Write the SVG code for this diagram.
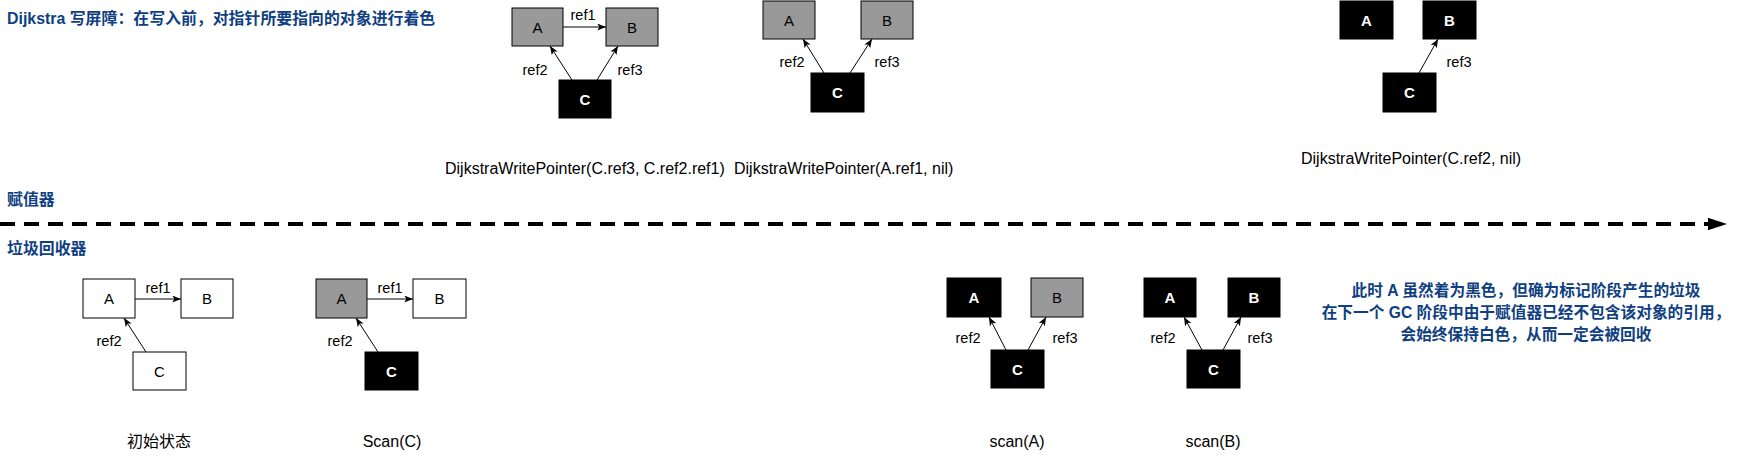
<svg xmlns="http://www.w3.org/2000/svg" width="1749" height="456" viewBox="0 0 1749 456">
<style>
text{font-family:"Liberation Sans","Noto Sans CJK SC",sans-serif;fill:#000}
.blue{fill:#0f3f82;font-weight:bold}
.t15{font-size:15.9px}
.lbl{font-size:15px;text-anchor:middle}
.wl{font-size:15px;text-anchor:middle;fill:#fff;font-weight:bold}
.ref{font-size:14.5px;text-anchor:middle}
.cap{font-size:16px}
.capm{font-size:16px;text-anchor:middle}
.ann{font-size:15.7px;text-anchor:middle}
.w{fill:#fff;stroke:#000;stroke-width:1}
.g{fill:#999;stroke:#000;stroke-width:1}
.k{fill:#000;stroke:#000;stroke-width:1}
.c{stroke:#000;stroke-width:1;fill:none;marker-end:url(#ah)}
</style>
<defs>
<marker id="ah" viewBox="0 0 10 8" refX="10" refY="4" markerWidth="9" markerHeight="7" markerUnits="userSpaceOnUse" orient="auto">
<path d="M0,0 L10,4 L0,8 L2.5,4 z" fill="#000"/>
</marker>
</defs>
<rect width="1749" height="456" fill="#fff"/>

<g id="labels">
<text class="blue t15" x="7" y="23.5">Dijkstra 写屏障：在写入前，对指针所要指向的对象进行着色</text>
<text class="blue t15" x="7" y="205">赋值器</text>
<text class="blue t15" x="7" y="253.5">垃圾回收器</text>
<text class="cap" x="445" y="173.5">DijkstraWritePointer(C.ref3, C.ref2.ref1)</text>
<text class="cap" x="734" y="173.5">DijkstraWritePointer(A.ref1, nil)</text>
<text class="cap" x="1301" y="163.5">DijkstraWritePointer(C.ref2, nil)</text>
<text class="capm" x="159" y="447">初始状态</text>
<text class="capm" x="392" y="447">Scan(C)</text>
<text class="capm" x="1017" y="447">scan(A)</text>
<text class="capm" x="1213" y="447">scan(B)</text>
<text class="blue ann" x="1526" y="296">此时 A 虽然着为黑色，但确为标记阶段产生的垃圾</text>
<text class="blue ann" x="1526" y="318">在下一个 GC 阶段中由于赋值器已经不包含该对象的引用，</text>
<text class="blue ann" x="1526" y="339.5">会始终保持白色，从而一定会被回收</text>
</g>

<g id="connectors">
<line x1="0" y1="224" x2="1710" y2="224" stroke="#000" stroke-width="4" stroke-dasharray="15 9"/>
<polygon points="1708,217.7 1727,224 1708,230.3" fill="#000"/>
<!-- panel 1 -->
<line class="c" x1="563" y1="27" x2="606" y2="27"/>
<line class="c" x1="572" y1="80" x2="550" y2="46"/>
<line class="c" x1="597" y1="80" x2="618" y2="46"/>
<text class="ref" x="583" y="19.5">ref1</text>
<text class="ref" x="535" y="75">ref2</text>
<text class="ref" x="630" y="75">ref3</text>
<!-- panel 2 -->
<line class="c" x1="824" y1="73" x2="803" y2="39"/>
<line class="c" x1="850" y1="73" x2="872" y2="39"/>
<text class="ref" x="792" y="66.7">ref2</text>
<text class="ref" x="887" y="66.7">ref3</text>
<!-- panel 3 -->
<line class="c" x1="1419" y1="73" x2="1438" y2="39"/>
<text class="ref" x="1459" y="66.7">ref3</text>
<!-- bottom 1 -->
<line class="c" x1="135" y1="299" x2="181" y2="299"/>
<line class="c" x1="146" y1="352" x2="124" y2="318"/>
<text class="ref" x="158" y="293.3">ref1</text>
<text class="ref" x="109" y="346">ref2</text>
<!-- bottom 2 -->
<line class="c" x1="367" y1="299" x2="413" y2="299"/>
<line class="c" x1="378" y1="352" x2="356" y2="318"/>
<text class="ref" x="390" y="293.3">ref1</text>
<text class="ref" x="340" y="346">ref2</text>
<!-- bottom 3 -->
<line class="c" x1="1006" y1="350" x2="989" y2="317"/>
<line class="c" x1="1028" y1="350" x2="1046" y2="317"/>
<text class="ref" x="968" y="343">ref2</text>
<text class="ref" x="1065" y="343">ref3</text>
<!-- bottom 4 -->
<line class="c" x1="1202" y1="350" x2="1184" y2="317"/>
<line class="c" x1="1223" y1="350" x2="1241" y2="317"/>
<text class="ref" x="1163" y="343">ref2</text>
<text class="ref" x="1260" y="343">ref3</text>
</g>

<g id="p1-A"><rect class="g" x="512" y="8" width="51" height="38"/><text class="lbl" x="537.5" y="32.5">A</text></g>
<g id="p1-B"><rect class="g" x="606" y="8" width="52" height="38"/><text class="lbl" x="632" y="32.5">B</text></g>
<g id="p1-C"><rect class="k" x="559" y="80" width="52" height="38"/><text class="wl" x="585" y="104.5">C</text></g>

<g id="p2-A"><rect class="g" x="763" y="1" width="52" height="38"/><text class="lbl" x="789" y="25.5">A</text></g>
<g id="p2-B"><rect class="g" x="861" y="1" width="52" height="38"/><text class="lbl" x="887" y="25.5">B</text></g>
<g id="p2-C"><rect class="k" x="811" y="73" width="53" height="39"/><text class="wl" x="837.5" y="98">C</text></g>

<g id="p3-A"><rect class="k" x="1340" y="1" width="53" height="38"/><text class="wl" x="1366.5" y="25.5">A</text></g>
<g id="p3-B"><rect class="k" x="1423" y="1" width="53" height="38"/><text class="wl" x="1449.5" y="25.5">B</text></g>
<g id="p3-C"><rect class="k" x="1383" y="73" width="53" height="39"/><text class="wl" x="1409.5" y="98">C</text></g>

<g id="b1-A"><rect class="w" x="83" y="279" width="52" height="39"/><text class="lbl" x="109" y="304">A</text></g>
<g id="b1-B"><rect class="w" x="181" y="279" width="52" height="39"/><text class="lbl" x="207" y="304">B</text></g>
<g id="b1-C"><rect class="w" x="133" y="352" width="53" height="38"/><text class="lbl" x="159.5" y="376.5">C</text></g>

<g id="b2-A"><rect class="g" x="316" y="279" width="51" height="39"/><text class="lbl" x="341.5" y="304">A</text></g>
<g id="b2-B"><rect class="w" x="413" y="279" width="53" height="39"/><text class="lbl" x="439.5" y="304">B</text></g>
<g id="b2-C"><rect class="k" x="365" y="352" width="53" height="38"/><text class="wl" x="391.5" y="376.5">C</text></g>

<g id="b3-A"><rect class="k" x="947" y="278" width="54" height="39"/><text class="wl" x="974" y="303">A</text></g>
<g id="b3-B"><rect class="g" x="1031" y="278" width="52" height="39"/><text class="lbl" x="1057" y="303">B</text></g>
<g id="b3-C"><rect class="k" x="991" y="350" width="53" height="38"/><text class="wl" x="1017.5" y="374.5">C</text></g>

<g id="b4-A"><rect class="k" x="1144" y="278" width="52" height="39"/><text class="wl" x="1170" y="303">A</text></g>
<g id="b4-B"><rect class="k" x="1228" y="278" width="52" height="39"/><text class="wl" x="1254" y="303">B</text></g>
<g id="b4-C"><rect class="k" x="1187" y="350" width="53" height="38"/><text class="wl" x="1213.5" y="374.5">C</text></g>
</svg>
